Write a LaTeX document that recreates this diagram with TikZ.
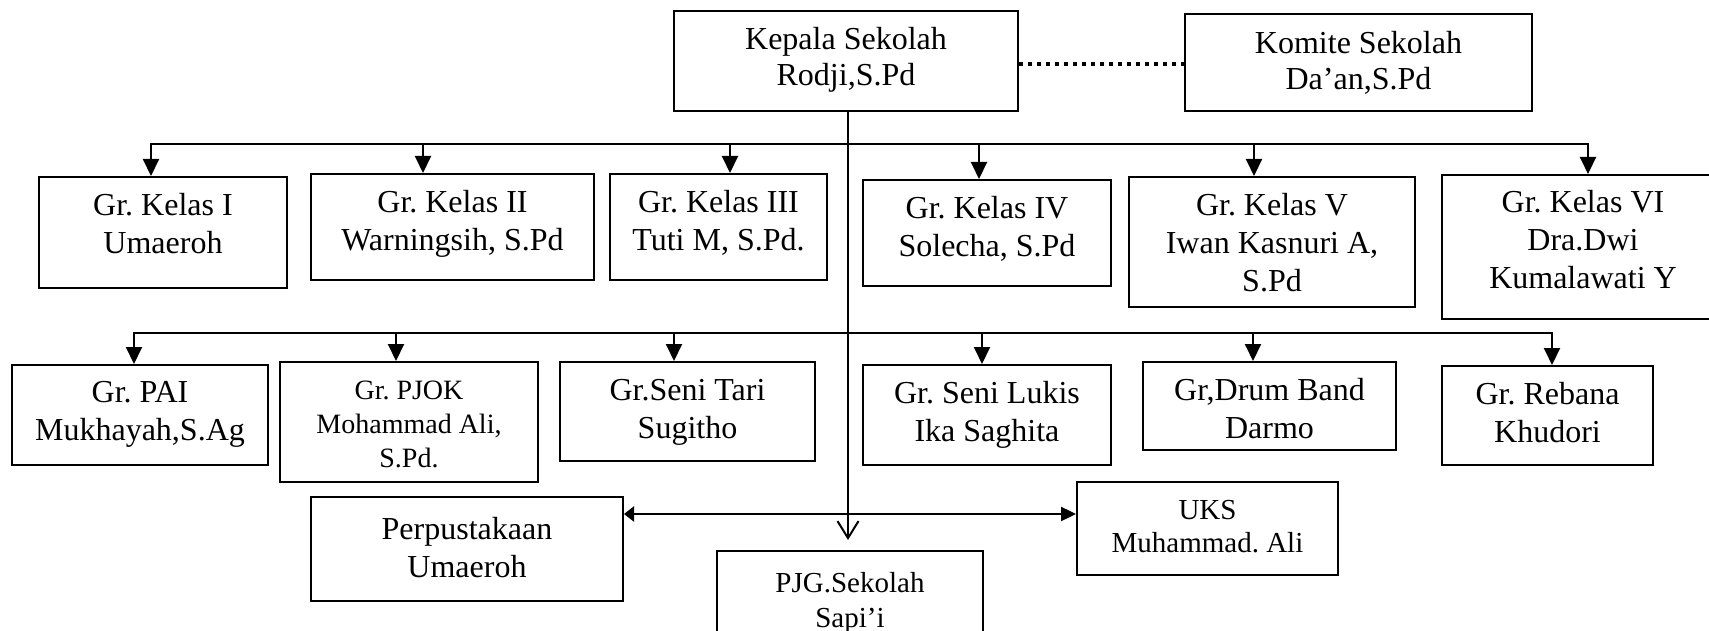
\documentclass[tikz,border=0pt]{standalone}
\usepackage{fontspec}
\setmainfont{Liberation Serif}
\usetikzlibrary{arrows.meta}
\frenchspacing
\newcommand{\fstrut}{\rule{0pt}{12pt}}
\begin{document}
\begin{tikzpicture}[x=0.5pt,y=-0.5pt,
  box/.style={draw, line width=1pt, inner sep=0pt, fill=white},
  sz/.style 2 args={minimum width=#1pt, minimum height=#2pt},
  txt/.style={anchor=north, inner sep=0pt, yshift=-7.75pt, align=center,
    font=\fontsize{16pt}{19pt}\selectfont},
  bus/.style={line width=1.4pt, line cap=rect},
  arr/.style={line width=1pt, -{Triangle[length=8.5pt,width=8pt]}},
]
\useasboundingbox (0,0) rectangle (1709,631);
\clip (0,0) rectangle (1709,631);

% top level
\node[box, sz={172}{50}] (kep) at (846,61) {};
\node[txt, font=\fontsize{16pt}{18pt}\selectfont] (kept) at (kep.north) {\fstrut Kepala Sekolah\\Rodji,S.Pd};
\node[box, sz={173.5}{48.5}, line width=0.8pt] (kom) at (1358.5,62.5) {};
\node[txt, yshift=-0.25pt, font=\fontsize{16pt}{18pt}\selectfont] (komt) at (kom.north) {\fstrut Komite Sekolah\\Da’an,S.Pd};

% level 1
\node[box, sz={124}{55.5}] (k1) at (163,232.5) {};
\node[txt] (k1t) at (k1.north) {\fstrut Gr. Kelas I\\Umaeroh};
\node[box, sz={141.5}{53}] (k2) at (452.5,227) {};
\node[txt] (k2t) at (k2.north) {\fstrut Gr. Kelas II\\Warningsih, S.Pd};
\node[box, sz={108.5}{53}] (k3) at (718.5,227) {};
\node[txt] (k3t) at (k3.north) {\fstrut Gr. Kelas III\\Tuti M, S.Pd.};
\node[box, sz={124}{53}] (k4) at (987,233) {};
\node[txt] (k4t) at (k4.north) {\fstrut Gr. Kelas IV\\Solecha, S.Pd};
\node[box, sz={143}{65}] (k5) at (1272,242) {};
\node[txt] (k5t) at (k5.north) {\fstrut Gr. Kelas V\\Iwan Kasnuri A,\\S.Pd};
\node[box, sz={141}{72}] (k6) at (1583,247) {};
\node[txt, yshift=0.5pt] (k6t) at (k6.north) {\fstrut Gr. Kelas VI\\Dra.Dwi\\Kumalawati Y};

% level 2
\node[box, sz={128}{50}] (pai) at (140,415) {};
\node[txt, yshift=0.5pt] (pait) at (pai.north) {\fstrut Gr. PAI\\Mukhayah,S.Ag};
\node[box, sz={129}{60}] (pjok) at (409,422) {};
\node[txt, yshift=0.5pt, font=\fontsize{14pt}{16.8pt}\selectfont] (pjokt) at (pjok.north) {\fstrut Gr. PJOK\\Mohammad Ali,\\S.Pd.};
\node[box, sz={127.5}{49.5}] (tari) at (687.5,411.5) {};
\node[txt] (tarit) at (tari.north) {\fstrut Gr.Seni Tari\\Sugitho};
\node[box, sz={124}{50}] (lukis) at (987,415) {};
\node[txt] (lukist) at (lukis.north) {\fstrut Gr. Seni Lukis\\Ika Saghita};
\node[box, sz={126.5}{44}] (drum) at (1269.5,406) {};
\node[txt] (drumt) at (drum.north) {\fstrut Gr,Drum Band\\Darmo};
\node[box, sz={105.5}{49.5}] (rebana) at (1547.5,415.5) {};
\node[txt] (rebanat) at (rebana.north) {\fstrut Gr. Rebana\\Khudori};

% level 3
\node[box, sz={156}{52}] (perp) at (467,549) {};
\node[txt, yshift=-2pt] (perpt) at (perp.north) {\fstrut Perpustakaan\\Umaeroh};
\node[box, sz={130.5}{46.5}] (uks) at (1207.5,528.5) {};
\node[txt, yshift=0.75pt, font=\fontsize{14.5pt}{16.6pt}\selectfont] (ukst) at (uks.north) {\fstrut UKS\\Muhammad. Ali};
\node[box, sz={133}{49.5}] (pjg) at (850,600.5) {};
\node[txt, yshift=-1.5pt, font=\fontsize{14.5pt}{17.5pt}\selectfont] (pjgt) at (pjg.north) {\fstrut PJG.Sekolah\\Sapi’i};

% dotted link
\coordinate (dl) at (0,64);
\draw[line width=2.3pt, dash pattern=on 2pt off 2.5pt] (kep.east |- dl) -- (kom.west |- dl);

% trunk
\coordinate (tr) at (848,0);
\draw[line width=1pt, shorten >=5pt, -{Straight Barb[length=8.5pt,width=10.5pt,line width=1pt]}]
  (kep.south -| tr) -- (pjg.north -| tr);

% level 1 bus and arrows
\coordinate (a1) at (151,144);
\coordinate (a2) at (423,144);
\coordinate (a3) at (730,144);
\coordinate (a4) at (979,144);
\coordinate (a5) at (1254,144);
\coordinate (a6) at (1588,144);
\draw[bus] (a1) -- (a6);
\draw[arr] (a1) -- (a1 |- k1.north);
\draw[arr] (a2) -- (a2 |- k2.north);
\draw[arr] (a3) -- (a3 |- k3.north);
\draw[arr] (a4) -- (a4 |- k4.north);
\draw[arr] (a5) -- (a5 |- k5.north);
\draw[arr] (a6) -- (a6 |- k6.north);

% level 2 bus and arrows
\coordinate (b1) at (134,333);
\coordinate (b2) at (396,333);
\coordinate (b3) at (674,333);
\coordinate (b4) at (982,333);
\coordinate (b5) at (1253,333);
\coordinate (b6) at (1552,333);
\draw[bus] (b1) -- (b6);
\draw[arr] (b1) -- (b1 |- pai.north);
\draw[arr] (b2) -- (b2 |- pjok.north);
\draw[arr] (b3) -- (b3 |- tari.north);
\draw[arr] (b4) -- (b4 |- lukis.north);
\draw[arr] (b5) -- (b5 |- drum.north);
\draw[arr] (b6) -- (b6 |- rebana.north);

% level 3 double arrow
\coordinate (c3) at (848,514);
\draw[line width=1.2pt, {Triangle[length=5pt,width=7.5pt]}-{Triangle[length=7.5pt,width=7pt]}]
  (perp.east |- c3) -- (uks.west |- c3);
\end{tikzpicture}
\end{document}
